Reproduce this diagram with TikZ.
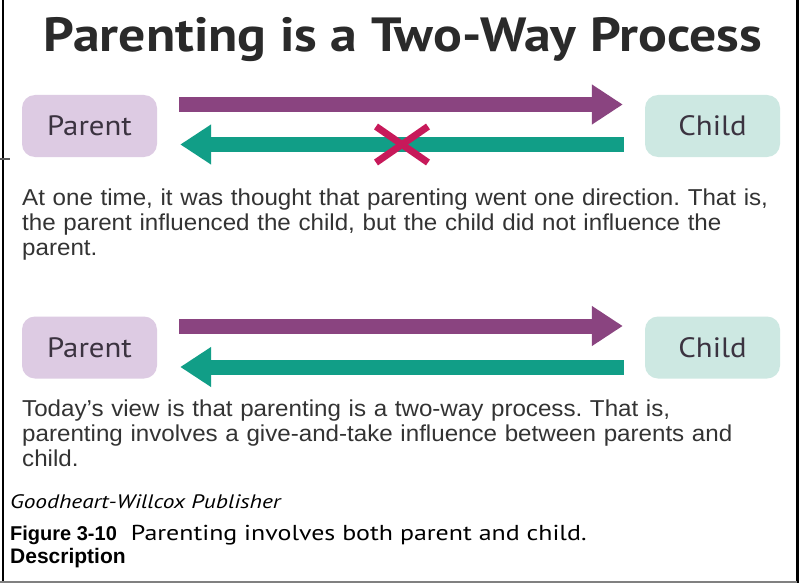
\documentclass[tikz,border=0pt]{standalone}
\usepackage{fontspec}
\setmainfont{Liberation Sans}
\newfontfamily\bodyfont[Ligatures=TeX,FakeStretch=1.05]{Liberation Sans}
\newfontfamily\titlefont[Ligatures=TeX,FakeStretch=1.12]{PT Sans}
\newfontfamily\labelfont[Ligatures=TeX,FakeStretch=1.1]{PT Sans}
\newfontfamily\creditfont[Ligatures=TeX,FakeStretch=1.2]{PT Sans}
\usetikzlibrary{arrows.meta}
\definecolor{plum}{HTML}{8A4480}
\definecolor{tealc}{HTML}{119E87}
\definecolor{lilac}{HTML}{DDCBE3}
\definecolor{mint}{HTML}{CDE8E2}
\definecolor{crimson}{HTML}{C7195A}
\definecolor{boxtext}{HTML}{3B3340}
\definecolor{bodytext}{HTML}{333333}
\definecolor{titletext}{HTML}{2A2A2A}
\frenchspacing
\begin{document}
\begin{tikzpicture}[x=1pt,y=-1pt,
  box/.style={rounded corners=13pt, minimum width=135pt, minimum height=62pt, inner sep=0pt, font=\labelfont\fontsize{28}{28}\selectfont, text=boxtext},
  parentbox/.style={box, fill=lilac},
  childbox/.style={box, fill=mint},
  bigarrow/.style={line width=15pt, -{Triangle[length=31pt,width=38pt]}},
  purplearrow/.style={bigarrow, draw=plum},
  tealarrow/.style={bigarrow, draw=tealc},
  para/.style={anchor=base west, inner sep=0pt, text width=775pt, align=left, font=\bodyfont\fontsize{23}{25}\selectfont, text=bodytext},
  cross/.style={draw=crimson, line width=7pt},
  frame/.style={draw=black, line width=2pt},
]
\useasboundingbox (0,0) rectangle (799,583);
\fill[white] (0,0) rectangle (799,583);

% title
\node[anchor=base, inner sep=0pt, font=\titlefont\bfseries\fontsize{48}{48}\selectfont, text=titletext] (title) at (403,52) {Parenting is a Two-Way Process};

% first diagram
\node[parentbox] (parent1) at (89.5,126) {Parent};
\node[childbox] (child1) at (712.5,126) {Child};
\draw[purplearrow] ([xshift=22pt,yshift=21.5pt]parent1.east) -- ([xshift=-22pt,yshift=21.5pt]child1.west);
\draw[tealarrow] ([xshift=-21pt,yshift=-18.5pt]child1.west) -- ([xshift=23pt,yshift=-18.5pt]parent1.east)
  coordinate[pos=0.5] (xmark);
\draw[cross] ([shift={(-26pt,18pt)}]xmark) -- ([shift={(26pt,-18pt)}]xmark);
\draw[cross] ([shift={(-26pt,-18pt)}]xmark) -- ([shift={(26pt,18pt)}]xmark);

\node[para] (text1) at (22,205) {At one time, it was thought that parenting went one direction. That is,\\
the parent influenced the child, but the child did not influence the\\
parent.};

% second diagram
\node[parentbox] (parent2) at (89.5,347.5) {Parent};
\node[childbox] (child2) at (712.5,347.5) {Child};
\draw[purplearrow] ([xshift=22pt,yshift=21.5pt]parent2.east) -- ([xshift=-22pt,yshift=21.5pt]child2.west);
\draw[tealarrow] ([xshift=-21pt,yshift=-19.5pt]child2.west) -- ([xshift=23pt,yshift=-19.5pt]parent2.east);

\node[para] (text2) at (22,416.5) {Today’s view is that parenting is a two-way process. That is,\\
parenting involves a give-and-take influence between parents and\\
child.};

% credits
\node[anchor=base west, inner sep=0pt, font=\creditfont\itshape\fontsize{19.5}{19.5}\selectfont] (credit) at (10,508) {Goodheart-Willcox Publisher};
\node[anchor=base west, inner sep=0pt, font=\bfseries\fontsize{20}{20}\selectfont] (caption) at (10,540) {Figure 3-10\hspace{14pt}{\creditfont\mdseries\fontsize{21.6}{21.6}\selectfont Parenting involves both parent and child.}};
\node[anchor=base west, inner sep=0pt, font=\bfseries\fontsize{21}{21}\selectfont] (descr) at (10,563) {Description};

% frame
\draw[frame] (3,0) -- (3,583);
\draw[draw=black, line width=3pt] (797.5,0) -- (797.5,583);
\draw[draw=gray, line width=2pt] (0,582) -- (797,582);
\draw[draw=gray!70!black, line width=1.5pt] (0,159) -- (10,159);
\end{tikzpicture}
\end{document}
